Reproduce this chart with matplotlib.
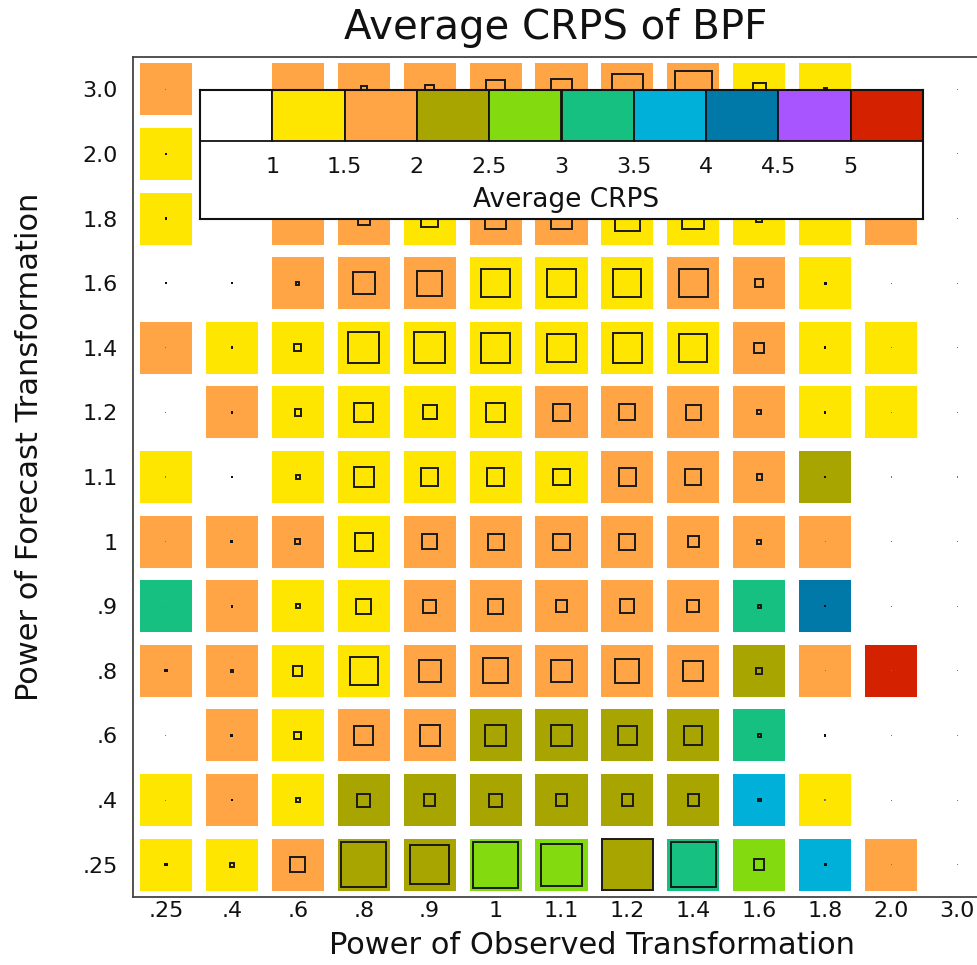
import matplotlib
matplotlib.use("Agg")
import matplotlib.pyplot as plt
from matplotlib.colors import ListedColormap, BoundaryNorm
from matplotlib.patches import Rectangle
from matplotlib.collections import PatchCollection

# Transformation powers (x: observed, y: forecast)
obs_power = ['.25', '.4', '.6', '.8', '.9', '1', '1.1', '1.2', '1.4', '1.6', '1.8', '2.0', '3.0']
fc_power = ['.25', '.4', '.6', '.8', '.9', '1', '1.1', '1.2', '1.4', '1.6', '1.8', '2.0', '3.0']

# Colour classes for the average CRPS
crps_bounds = [1, 1.5, 2, 2.5, 3, 3.5, 4, 4.5, 5]
bin_colors = ['#ffffff', '#ffe600', '#ffa545', '#a8a500', '#82da0f',
              '#16c080', '#00b0d8', '#0078a8', '#a855ff', '#d42100']

# Average CRPS, one row per forecast power (from .25 upwards)
crps = [
    [1.3, 1.3, 1.8, 2.3, 2.3, 2.8, 2.8, 2.3, 3.3, 2.8, 3.8, 1.8, 0.8],
    [1.3, 1.8, 1.3, 2.3, 2.3, 2.3, 2.3, 2.3, 2.3, 3.8, 1.3, 0.8, 0.8],
    [0.8, 1.8, 1.3, 1.8, 1.8, 2.3, 2.3, 2.3, 2.3, 3.3, 0.8, 0.8, 0.8],
    [1.8, 1.8, 1.3, 1.3, 1.8, 1.8, 1.8, 1.8, 1.8, 2.3, 1.8, 5.4, 0.8],
    [3.3, 1.8, 1.3, 1.3, 1.8, 1.8, 1.8, 1.8, 1.8, 3.3, 4.3, 0.8, 0.8],
    [1.8, 1.8, 1.8, 1.3, 1.8, 1.8, 1.8, 1.8, 1.8, 1.8, 1.8, 0.8, 0.8],
    [1.3, 0.8, 1.3, 1.3, 1.3, 1.3, 1.3, 1.8, 1.8, 1.8, 2.3, 0.8, 0.8],
    [0.8, 1.8, 1.3, 1.3, 1.3, 1.3, 1.8, 1.8, 1.8, 1.8, 1.3, 1.3, 0.8],
    [1.8, 1.3, 1.3, 1.3, 1.3, 1.3, 1.3, 1.3, 1.3, 1.8, 1.3, 1.3, 0.8],
    [0.8, 0.8, 1.8, 1.8, 1.8, 1.3, 1.3, 1.3, 1.8, 1.8, 1.3, 0.8, 0.8],
    [1.3, 0.8, 1.8, 1.8, 1.3, 1.8, 1.8, 1.3, 1.3, 1.3, 1.3, 1.8, 0.8],
    [1.3, 0.8, 1.8, 1.8, 1.8, 1.8, 1.8, 1.8, 1.3, 1.3, 1.3, 0.8, 0.8],
    [1.8, 0.8, 1.8, 1.8, 1.8, 1.8, 1.8, 1.8, 1.8, 1.3, 1.3, 0.8, 0.8],
]

# Relative size of the inner box (1 = full cell)
box_size = [
    [.06, .11, .32, .89, .77, .91, .83, 1.0, .89, .23, .06, .02, .02],
    [.02, .04, .11, .28, .25, .28, .26, .25, .25, .08, .03, .02, .02],
    [.02, .06, .17, .40, .42, .43, .43, .38, .38, .09, .04, .02, .02],
    [.06, .08, .21, .57, .45, .51, .45, .49, .42, .15, .02, .02, .02],
    [.02, .05, .11, .32, .28, .32, .26, .30, .26, .09, .04, .02, .02],
    [.02, .06, .13, .38, .32, .34, .34, .34, .25, .11, .02, .02, .02],
    [.02, .05, .11, .42, .36, .36, .34, .36, .34, .13, .04, .02, .02],
    [.02, .05, .15, .40, .30, .40, .36, .34, .32, .11, .05, .02, .02],
    [.02, .05, .17, .62, .62, .60, .57, .60, .57, .23, .05, .02, .02],
    [.05, .05, .09, .45, .51, .58, .57, .57, .58, .19, .06, .02, .02],
    [.04, .04, .06, .26, .36, .42, .42, .51, .45, .15, .06, .02, .02],
    [.04, .04, .06, .23, .28, .38, .38, .47, .47, .19, .06, .02, .02],
    [.02, .02, .02, .15, .21, .40, .42, .62, .74, .28, .09, .02, .02],
]

cmap = ListedColormap(bin_colors)
norm = BoundaryNorm([0] + crps_bounds + [100], cmap.N)

fig = plt.figure(figsize=(9.78, 9.65), dpi=100)
ax = fig.add_axes([133 / 978, 68 / 965, 857 / 978, 840 / 965])
ax.set_xlim(-0.5, len(obs_power) - 0.5)
ax.set_ylim(-0.5, len(fc_power) - 0.5)

cw, ch = 0.79, 0.805
cells, values = [], []
for j, row in enumerate(crps):
    for i, v in enumerate(row):
        cells.append(Rectangle((i - cw / 2, j - ch / 2), cw, ch))
        values.append(v)
pc = PatchCollection(cells, cmap=cmap, norm=norm, edgecolor='none')
pc.set_array(values)
ax.add_collection(pc)

for j, row in enumerate(box_size):
    for i, s in enumerate(row):
        w, h = s * cw, s * ch
        if s >= 0.075:
            ax.add_patch(Rectangle((i - w / 2 + 0.012, j - h / 2 + 0.012),
                                   w - 0.024, h - 0.024, facecolor='none',
                                   edgecolor='#1a1a1a', linewidth=1.4, zorder=3))
        else:
            col = '#111111' if s >= 0.04 else '#777777'
            ax.add_patch(Rectangle((i - w / 2, j - h / 2), w, h, facecolor=col,
                                   edgecolor='none', zorder=3))

ax.set_xticks(range(len(obs_power)))
ax.set_xticklabels(obs_power)
ax.set_yticks(range(len(fc_power)))
ax.set_yticklabels(fc_power)
ax.tick_params(axis='both', length=0, labelsize=16, colors='#111111')
ax.tick_params(axis='x', pad=3)
ax.tick_params(axis='y', pad=11)
ax.spines['right'].set_visible(False)
for side in ('left', 'top', 'bottom'):
    ax.spines[side].set_color('#444444')
    ax.spines[side].set_linewidth(1.3)

fig.text(556 / 978, 1 - 28 / 965, 'Average CRPS of BPF', ha='center', va='center',
         fontsize=29, color='#111111')
fig.text(592 / 978, 1 - 945 / 965, 'Power of Observed Transformation', ha='center',
         va='center', fontsize=22, color='#111111')
fig.text(30 / 978, 1 - 447 / 965, 'Power of Forecast Transformation', ha='center',
         va='center', rotation=90, fontsize=22, color='#111111')

# Colour key
lg = fig.add_axes([200 / 978, 1 - 219 / 965, 723 / 978, 129 / 965])
lg.set_xlim(0, len(bin_colors))
lg.set_ylim(0, 1)
strip = 51 / 129
lg.bar([k + 0.5 for k in range(len(bin_colors))], strip, bottom=1 - strip, width=1,
       color=bin_colors, edgecolor='#111111', linewidth=1.3)
for k, b in enumerate(crps_bounds):
    lg.text(k + 1, 0.40, f'{b:g}', ha='center', va='center', fontsize=16, color='#111111')
lg.text(5.07, 0.15, 'Average CRPS', ha='center', va='center', fontsize=19, color='#111111')
lg.set_xticks([])
lg.set_yticks([])
for sp in lg.spines.values():
    sp.set_color('#111111')
    sp.set_linewidth(1.5)

fig.savefig('out.png', dpi=100)
